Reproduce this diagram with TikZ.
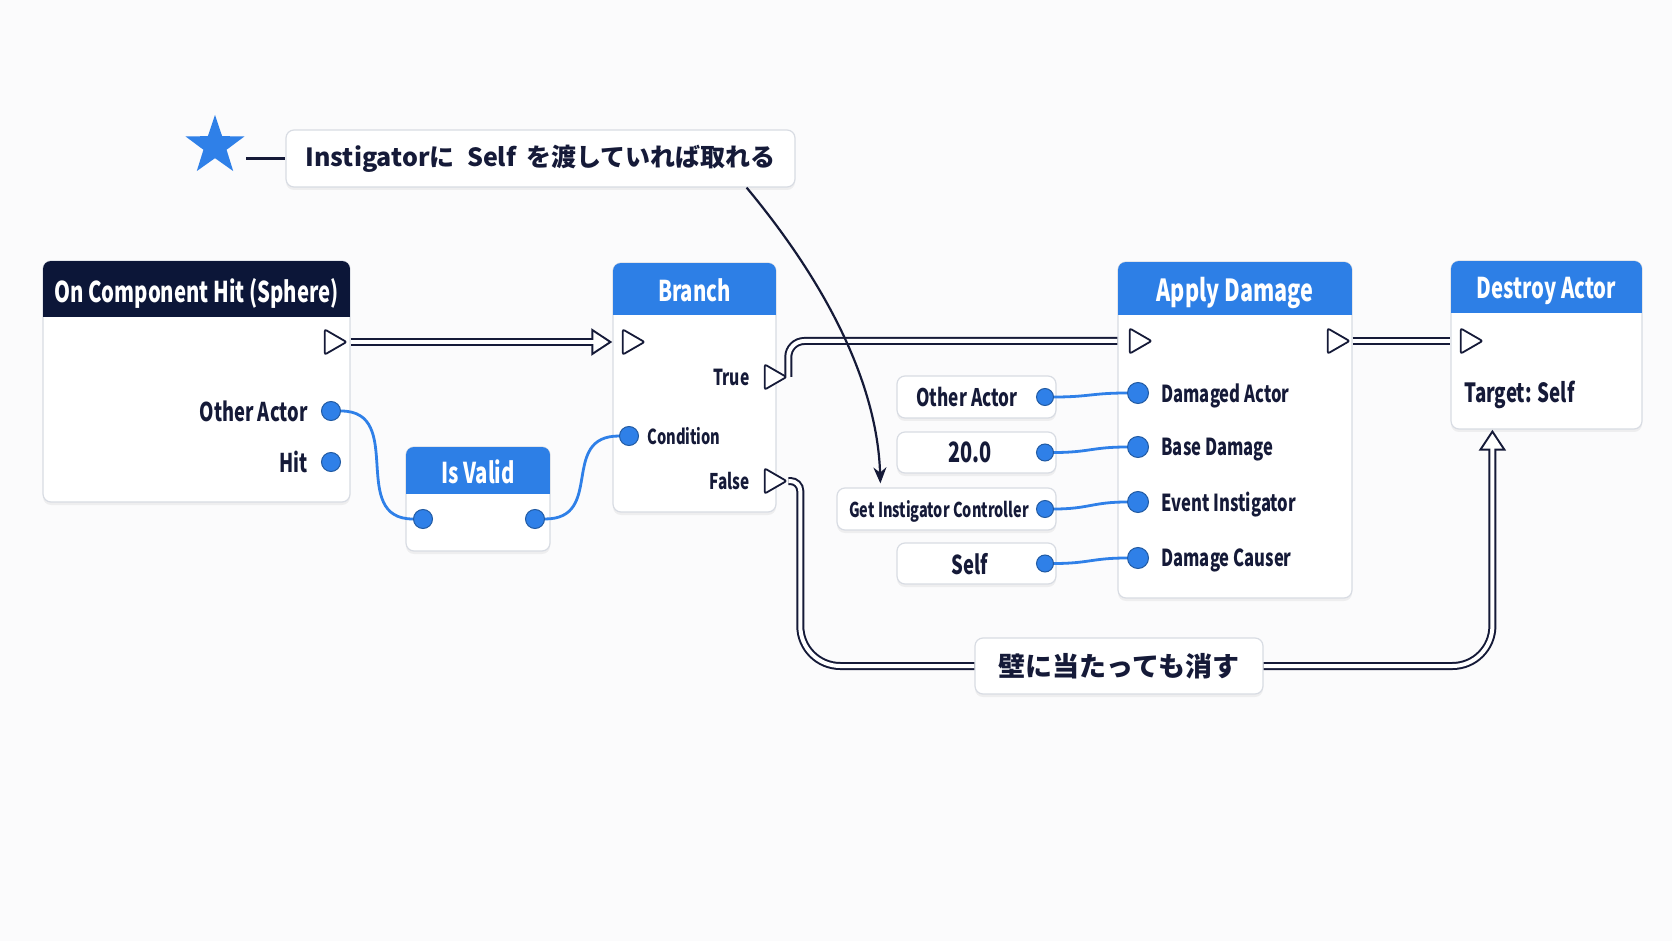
\documentclass[tikz,border=0pt]{standalone}
\usepackage{fontspec}
\setmainfont{Noto Sans CJK JP}
% the node font is narrower than the face we have, so it is squeezed
\newfontfamily\uifont{Noto Sans CJK JP}[FakeStretch=0.71]
\usetikzlibrary{arrows.meta,calc,shapes.geometric,positioning,fit,shadows}
\definecolor{ink}{RGB}{21,26,56}
\definecolor{hdrblue}{RGB}{45,127,230}
\definecolor{hdrdark}{RGB}{12,22,56}
\definecolor{pinblue}{RGB}{47,128,232}
\definecolor{edge}{RGB}{216,220,227}
\definecolor{paper}{RGB}{251,251,252}
\newcommand\fs[1]{\fontsize{#1}{#1}\selectfont}
\tikzset{
  uf/.style={font=\uifont\bfseries\fs{#1}},
  card/.style={rounded corners=4pt,draw=edge,fill=white,line width=.6pt,inner sep=0pt,
    drop shadow={opacity=.10,shadow xshift=0pt,shadow yshift=-1.5pt}},
  hdr/.style={uf=14.3,text=white,inner sep=0pt,text depth=0pt},
  lbl/.style={uf=12.9,text=ink,inner sep=0pt,text depth=0pt},
  lbs/.style={uf=11.7,text=ink,inner sep=0pt,text depth=0pt},
  datapin/.style={circle,fill=pinblue,draw=pinblue!70!black,line width=.5pt,minimum size=9.5pt,inner sep=0pt},
  execpin/.style={regular polygon,regular polygon sides=3,shape border rotate=-90,draw=ink,fill=white,
    line width=.9pt,minimum size=14.5pt,inner sep=0pt,rounded corners=1pt},
  execw/.style={draw=ink,line width=1pt,double=white,double distance=2pt},
  % exec link with an arrow: dark outline first, white core over it
  execa/.style={draw=ink,line width=4pt,-{Triangle[length=10.5pt,width=13pt]},
    postaction={draw=white,line width=2pt,-{Triangle[length=7.6pt,width=9.4pt]},shorten >=1.9pt}},
  wire/.style={draw=pinblue,line width=1.4pt},
  note/.style={rounded corners=4pt,draw=edge,fill=white,line width=.6pt,inner sep=0pt,
    drop shadow={opacity=.10,shadow xshift=0pt,shadow yshift=-1.5pt},
    font=\bfseries\fs{13.5},text=ink},
}
\begin{document}
\begin{tikzpicture}[x=.5pt,y=-.5pt]
\fill[paper] (0,0) rectangle (1672,941);
\useasboundingbox (0,0) rectangle (1672,941);
% graph nodes: card first, then the coloured header clipped to its corners
\foreach \n/\xa/\ya/\xb/\yb/\yh/\hc/\t in {
    hit/43/261/350/502/317/hdrdark/{On Component Hit (Sphere)},
    iv/406/447/550/551/494/hdrblue/{Is Valid},
    br/613/263/776/512/315/hdrblue/{Branch},
    ap/1118/262/1352/598/315/hdrblue/{\fs{15.2}Apply Damage},
    de/1451/261/1642/429/313/hdrblue/{Destroy Actor}} {
  \node[card,fit={(\xa,\ya)(\xb,\yb)}] (\n) {};
  \begin{scope}
    \clip[rounded corners=4pt] (\xa,\ya) rectangle (\xb,\yb);
    \fill[\hc] (\xa,\ya) rectangle (\xb,\yh);
  \end{scope}
  \node[hdr] at ({(\xa+\xb)/2},{(\ya+\yh)/2+1}) {\t};
}
% pins
\node[execpin] (hit-x) at (332,342) {};
\node[datapin] (hit-oa) at (331,411) {};
\node[datapin] (hit-h) at (331,462) {};
\node[lbl,left=6.5pt of hit-oa] {Other Actor};
\node[lbl,left=6.5pt of hit-h] {Hit};
\node[datapin] (iv-i) at (423,519) {};
\node[datapin] (iv-o) at (535,519) {};
\node[execpin] (br-in) at (630,342) {};
\node[execpin] (br-t) at (772,377) {};
\node[datapin] (br-c) at (629,436) {};
\node[execpin] (br-f) at (772,481) {};
\node[lbs,left=7pt of br-t,uf=11] {True};
\node[lbs,left=7pt of br-f,uf=10.8] {False};
\node[lbs,right=4pt of br-c,uf=10.3] {Condition};
\node[execpin] (ap-in) at (1137,341) {};
\node[execpin] (ap-out) at (1335,341) {};
\foreach \i/\y/\t in {1/393/Damaged Actor, 2/447/Base Damage, 3/502/Event Instigator, 4/558/Damage Causer} {
  \node[datapin,minimum size=10.5pt] (ap-\i) at (1138,\y) {};
  \node[lbs,right=6pt of ap-\i] {\t};
}
\node[execpin] (de-in) at (1468,341) {};
\node[lbl,anchor=west,uf=13.2] at (1464,392) {Target: Self};
% literal inputs of Apply Damage
\foreach \n/\xa/\ya/\yb/\tx/\t in {
    oa/897/376/418/967/{\fs{12.1}Other Actor},
    dmg/897/432/473/970/{\fs{14}20.0},
    gic/837/488/530/939/{\fs{10.2}Get Instigator Controller},
    self/897/543/584/970/{\fs{13}Self}} {
  \node[card,fit={(\xa,\ya)(1056,\yb)}] (\n) {};
  \node[datapin,minimum size=8.5pt] (\n-p) at (1045,{(\ya+\yb)/2}) {};
  \node[lbl] at (\tx,{(\ya+\yb)/2}) {\t};
}
% data wires
\draw[wire] (hit-oa.east) .. controls +(65,0) and +(-65,0) .. (iv-i.west);
\draw[wire] (iv-o.east) .. controls +(60,0) and +(-60,0) .. (br-c.west);
\foreach \n/\i in {oa/1, dmg/2, gic/3, self/4}
  \draw[wire] (\n-p.east) .. controls +(35,0) and +(-35,0) .. (ap-\i.west);
% callouts
\node[note,minimum width=254.5pt,minimum height=28.5pt,font=\bfseries\fs{12.5}] (note) at (540.5,158.5)
  {Instigatorに\hspace{.5em}Self\hspace{.4em}を渡していれば取れる};
\node[note,minimum width=144pt,minimum height=28pt] (wall) at (1119,666) {壁に当たっても消す};
\node[star,star points=5,star point ratio=2.55,fill=pinblue,minimum size=31pt,inner sep=0pt] (star) at (215,146) {};
\draw[ink,line width=1.3pt] ([xshift=7pt]star.east |- note.west) -- (note.west);
% exec wires
\draw[execa] (hit-x -| hit.east) -- (br-in -| br.west);
\draw[execw,rounded corners=8pt] (br-t.east) |- (ap-in -| ap.west);
\draw[execw] (ap-out -| ap.east) -- (de-in -| de.west);
\draw[execw,rounded corners=5pt] (br-f.east) -- ++(12,0) [rounded corners=20pt] |- (wall.west);
\draw[execa,rounded corners=20pt] (wall.east) -| ($(de.south west)+(42,0)$);
\draw[ink,line width=1.1pt,-{Stealth[length=8pt,width=6.5pt]}] ($(note.south east)+(-49,0)$)
  .. controls +(84,101) and +(-3,-96) .. ($(gic.north west)+(44,-4)$);
\end{tikzpicture}
\end{document}
